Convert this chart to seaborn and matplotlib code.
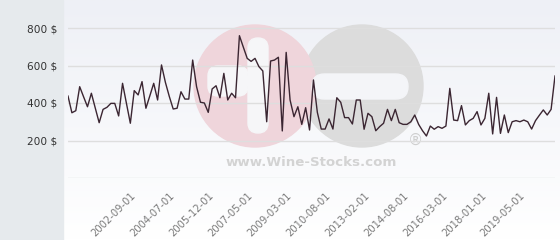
import numpy as np
import pandas as pd
import matplotlib
matplotlib.use("Agg")
import matplotlib.pyplot as plt
from matplotlib.patches import Circle, FancyBboxPatch, Rectangle
from matplotlib.transforms import ScaledTranslation
import seaborn as sns

# ---- data ----
prices = [437, 348, 359, 487, 433, 380, 452, 373, 295, 366,
          377, 398, 398, 331, 505, 398, 292, 466, 443, 514,
          372, 438, 505, 416, 603, 510, 435, 368, 372, 460,
          421, 421, 629, 487, 404, 400, 350, 475, 492, 428,
          558, 416, 452, 428, 759, 698, 638, 622, 638, 594,
          571, 300, 624, 629, 644, 251, 670, 416, 327, 380,
          286, 375, 256, 523, 350, 261, 261, 315, 261, 428,
          404, 322, 322, 288, 416, 416, 260, 345, 327, 252,
          274, 292, 366, 306, 366, 295, 286, 286, 300, 336,
          286, 252, 224, 277, 260, 274, 265, 277, 478, 309,
          306, 386, 283, 306, 318, 354, 283, 318, 452, 235,
          430, 238, 336, 242, 300, 306, 300, 309, 300, 261,
          306, 335, 363, 336, 366, 544]
tick_labels = ["2002-09-01", "2004-07-01", "2005-12-01", "2007-05-01",
               "2009-03-01", "2010-08-01", "2013-02-01", "2014-08-01",
               "2016-03-01", "2018-01-01", "2019-05-01"]
y_ticks = [200, 400, 600, 800]

df = pd.DataFrame({"i": np.arange(len(prices)), "price": prices})
tick_pos = [16 + 10 * k for k in range(len(tick_labels))]

W, H = 560, 240
fig = plt.figure(figsize=(W / 100, H / 100), dpi=100)
fig.patch.set_facecolor("white")

# background layer in pixel coords
bg = fig.add_axes([0, 0, 1, 1], zorder=-10)
bg.set_xlim(0, W)
bg.set_ylim(H, 0)
bg.axis("off")
grad = np.linspace(0, 1, 200)[:, None]
cmap = matplotlib.colors.LinearSegmentedColormap.from_list("g", ["#eef0f6", "#ffffff"])
bg.imshow(grad, extent=[64, W, H, 0], aspect="auto", cmap=cmap, zorder=0)
bg.add_patch(Rectangle((0, 0), 63, H, color="#e6eaed", zorder=1))

# watermark
bg.add_patch(Circle((362, 86), 61, color="#dcdcdc", zorder=2))
bg.add_patch(Circle((255, 86), 61, color="#efd5db", zorder=3))
bg.add_patch(FancyBboxPatch((312, 74), 96, 25, boxstyle="round,pad=0,rounding_size=12.5",
                            color="#f4f5f8", zorder=4))
bg.add_patch(FancyBboxPatch((208, 66), 40, 30, boxstyle="round,pad=0,rounding_size=10",
                            color="#f6f6f8", zorder=4))
bg.add_patch(FancyBboxPatch((248, 38), 20, 95, boxstyle="round,pad=0,rounding_size=10",
                            color="#f6f6f8", zorder=4))
bg.text(311, 162, "www.Wine-Stocks.com", ha="center", va="center", fontsize=9.6,
        fontweight="bold", color="#d3d3d3", zorder=5)
bg.text(415, 140, "\u00ae", ha="center", va="center", fontsize=11, color="#cfcfcf", zorder=5)

# main chart
ax = fig.add_axes([68 / W, (H - 178) / H, 487 / W, 178 / H])
ax.patch.set_alpha(0)
sns.lineplot(data=df, x="i", y="price", ax=ax, color="#3b2632", linewidth=1.0)
ax.set_xlim(0, len(prices) - 1)
ax.set_ylim(0, 800 + 28 / 37.5 * 200)
ax.set_yticks([0] + y_ticks)
ax.set_yticklabels([""] + [f"{v} $" for v in y_ticks], fontsize=7.6, color="#333333")
ax.set_xticks(tick_pos)
ax.set_xticklabels(tick_labels, rotation=45, ha="right", va="top", rotation_mode="anchor",
                   fontsize=7.2, color="#7a7a7a")
shift = ScaledTranslation(-5 / 100, -2 / 100, fig.dpi_scale_trans)
for lab in ax.get_xticklabels():
    lab.set_transform(lab.get_transform() + shift)
ax.tick_params(axis="y", length=0, pad=8)
ax.tick_params(axis="x", length=0, pad=9)
ax.grid(axis="y", color="#dedede", linewidth=1.0)
ax.grid(axis="x", visible=False)
ax.set_axisbelow(True)
for s in ax.spines.values():
    s.set_visible(False)
ax.set_xlabel("")
ax.set_ylabel("")

fig.savefig("out.png", dpi=100)
